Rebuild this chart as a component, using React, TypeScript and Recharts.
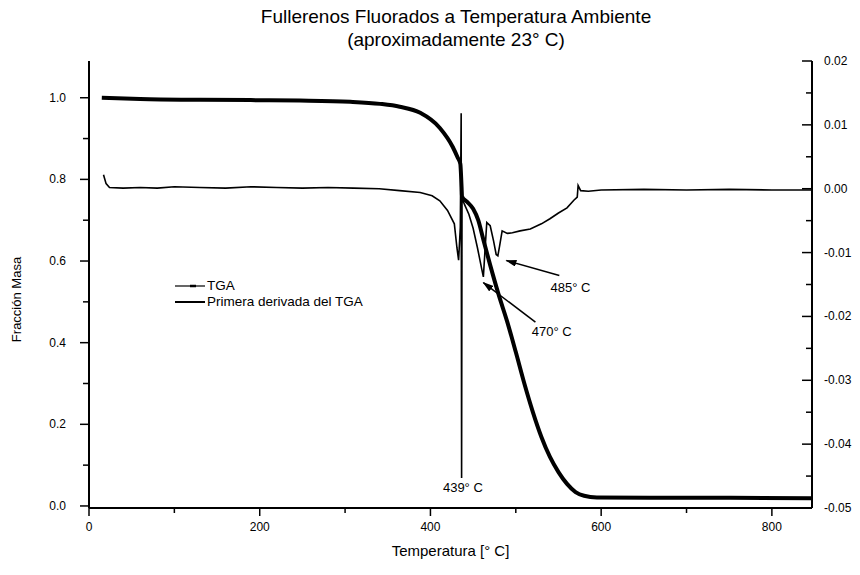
import { ComposedChart, Line, XAxis, YAxis, ReferenceLine, ReferenceDot, Label } from 'recharts';

// TGA (fracción de masa) — eje izquierdo
const tgaTemp = [15, 60, 130, 200, 247, 306, 341, 364, 388, 411, 426, 432, 435, 436.5, 437, 443, 450, 456, 462, 470, 480, 490, 500, 510, 520, 530, 540, 550, 560, 570, 580, 595, 657, 750, 848];
const tgaMass = [1.0, 0.997, 0.995, 0.994, 0.993, 0.99, 0.985, 0.978, 0.963, 0.926, 0.88, 0.853, 0.838, 0.78, 0.758, 0.745, 0.728, 0.7, 0.652, 0.59, 0.517, 0.451, 0.377, 0.3, 0.23, 0.169, 0.12, 0.083, 0.054, 0.034, 0.025, 0.021, 0.02, 0.02, 0.019];

// primera derivada — eje derecho
const dtgTemp = [17, 20, 24, 40, 60, 80, 100, 130, 160, 190, 220, 250, 280, 310, 340, 364, 388, 402, 411, 420, 428, 431, 433, 435, 436, 436.5, 437, 440, 445, 450, 455, 460, 462, 464, 466, 470, 474, 477, 479, 481, 484, 490, 496, 505, 517, 530, 540, 550, 560, 568, 572, 573, 576, 585, 600, 650, 700, 750, 800, 848];
const dtgValue = [0.0022, 0.0008, 0.0002, 0.0001, 0.0002, 0.0001, 0.0003, 0.0002, 0.0001, 0.0003, 0.0002, 0.0001, 0.0002, 0.0001, 0.0, -0.0003, -0.0006, -0.0011, -0.0019, -0.0034, -0.0055, -0.0092, -0.0112, -0.006, 0.0118, -0.0453, -0.0015, -0.0025, -0.004, -0.0062, -0.0092, -0.0125, -0.0138, -0.0095, -0.0053, -0.0058, -0.0082, -0.0103, -0.0105, -0.009, -0.0066, -0.007, -0.0069, -0.0066, -0.0063, -0.0055, -0.0047, -0.0038, -0.003, -0.0018, -0.0013, 0.0005, -0.0003, -0.0004, -0.0002, -0.0001, -0.0002, -0.0001, -0.0002, -0.0002];

const xTicks = [0, 100, 200, 300, 400, 500, 600, 700, 800];
const leftTicks = [0, 0.1, 0.2, 0.3, 0.4, 0.5, 0.6, 0.7, 0.8, 0.9, 1.0];
const rightTicks = [-0.05, -0.045, -0.04, -0.035, -0.03, -0.025, -0.02, -0.015, -0.01, -0.005, 0, 0.005, 0.01, 0.015, 0.02];

const tgaData = tgaTemp.map((t, i) => ({ t, tga: tgaMass[i] }));
const dtgData = dtgTemp.map((t, i) => ({ t, dtg: dtgValue[i] }));

const FONT = '"Liberation Sans", Arial, sans-serif';
const W = 860;
const H = 575;

function XTick({ x, y, payload }: any) {
  const major = payload.value % 200 === 0;
  return (
    <g>
      <line x1={x} x2={x} y1={y} y2={y + (major ? 8 : 5)} stroke="#000" strokeWidth={1.5} />
      {major && (
        <text x={x} y={y + 23} textAnchor="middle" fontSize={12} fontFamily={FONT} fill="#000">
          {payload.value}
        </text>
      )}
    </g>
  );
}

function LeftTick({ x, y, payload }: any) {
  const major = Math.round(payload.value * 10) % 2 === 0;
  return (
    <g>
      <line x1={x} x2={x - (major ? 9 : 6)} y1={y} y2={y} stroke="#000" strokeWidth={1.5} />
      {major && (
        <text x={x - 23} y={y + 4} textAnchor="end" fontSize={12} fontFamily={FONT} fill="#000">
          {payload.value.toFixed(1)}
        </text>
      )}
    </g>
  );
}

function RightTick({ x, y, payload }: any) {
  const major = Math.round(payload.value * 1000) % 10 === 0;
  return (
    <g>
      <line x1={x} x2={x - (major ? 10 : 6)} y1={y} y2={y} stroke="#000" strokeWidth={1.5} />
      {major && (
        <text x={x + 12} y={y + 4} textAnchor="start" fontSize={12} fontFamily={FONT} fill="#000">
          {payload.value.toFixed(2)}
        </text>
      )}
    </g>
  );
}

function Arrow(props: any) {
  const { x1, y1, x2, y2 } = props;
  const id = `arr-${Math.round(x2)}-${Math.round(y2)}`;
  return (
    <g>
      <defs>
        <marker id={id} markerUnits="userSpaceOnUse" markerWidth={11} markerHeight={7} refX={10} refY={3.5} orient="auto">
          <path d="M0,0 L11,3.5 L0,7 z" fill="#000" />
        </marker>
      </defs>
      <line x1={x1} y1={y1} x2={x2} y2={y2} stroke="#000" strokeWidth={1.5} markerEnd={`url(#${id})`} />
    </g>
  );
}

function LegendBox() {
  return (
    <div
      style={{
        position: 'absolute',
        left: 175,
        top: 278,
        fontFamily: FONT,
        fontSize: 13.5,
        color: '#000',
        lineHeight: '16px',
      }}
    >
      <div style={{ display: 'flex', alignItems: 'center' }}>
        <svg width={32} height={8}>
          <line x1={0} x2={30} y1={4} y2={4} stroke="#000" strokeWidth={1.2} />
          <line x1={15} x2={21} y1={4} y2={4} stroke="#000" strokeWidth={2.5} />
        </svg>
        <span>TGA</span>
      </div>
      <div style={{ display: 'flex', alignItems: 'center' }}>
        <svg width={32} height={8}>
          <line x1={0} x2={30} y1={4} y2={4} stroke="#000" strokeWidth={2} />
        </svg>
        <span>Primera derivada del TGA</span>
      </div>
    </div>
  );
}

const annot = (value: string) => ({
  value,
  position: 'center' as const,
  fontSize: 13,
  fontFamily: FONT,
  fill: '#000',
});

export default function App() {
  return (
    <div style={{ position: 'absolute', left: 0, top: 0, width: W, height: H, background: '#fff' }}>
      <div
        style={{
          position: 'absolute',
          left: 0,
          top: 5,
          width: 912,
          textAlign: 'center',
          fontFamily: FONT,
          fontSize: 19,
          lineHeight: '23px',
          color: '#000',
        }}
      >
        Fullerenos Fluorados a Temperatura Ambiente
        <br />
        (aproximadamente 23° C)
      </div>
      <ComposedChart width={W} height={H} margin={{ top: 61, right: 0, bottom: 37, left: 0 }}>
        <XAxis
          xAxisId="b"
          dataKey="t"
          type="number"
          domain={[0, 847]}
          ticks={xTicks}
          allowDataOverflow
          height={30}
          axisLine={{ stroke: '#000', strokeWidth: 2 }}
          tickLine={false}
          tickSize={0}
          tickMargin={0}
          tick={<XTick />}
          interval={0}
        >
          <Label
            content={({ viewBox }: any) => (
              <text x={viewBox.x + viewBox.width / 2} y={viewBox.y + 48} textAnchor="middle" fontSize={15} fontFamily={FONT} fill="#000">
                Temperatura [° C]
              </text>
            )}
          />
        </XAxis>
        <XAxis xAxisId="top" dataKey="t" type="number" domain={[0, 847]} orientation="top" height={0} tick={false} tickLine={false} axisLine={{ stroke: '#000', strokeWidth: 2 }} />
        <YAxis
          yAxisId="left"
          type="number"
          domain={[-0.005, 1.09]}
          ticks={leftTicks}
          allowDataOverflow
          width={89}
          axisLine={{ stroke: '#000', strokeWidth: 2 }}
          tickLine={false}
          tickSize={0}
          tickMargin={0}
          tick={<LeftTick />}
          interval={0}
        >
          <Label
            content={({ viewBox }: any) => {
              const cx = 18;
              const cy = viewBox.y + viewBox.height / 2 + 15;
              return (
                <text x={cx} y={cy} transform={`rotate(-90 ${cx} ${cy})`} textAnchor="middle" dominantBaseline="middle" fontSize={13} fontFamily={FONT} fill="#000">
                  Fracción Masa
                </text>
              );
            }}
          />
        </YAxis>
        <YAxis
          yAxisId="right"
          orientation="right"
          type="number"
          domain={[-0.05, 0.02]}
          ticks={rightTicks}
          allowDataOverflow
          width={48}
          axisLine={{ stroke: '#000', strokeWidth: 2 }}
          tickLine={false}
          tickSize={0}
          tickMargin={0}
          tick={<RightTick />}
          interval={0}
        />
        <Line
          xAxisId="b"
          yAxisId="right"
          data={dtgData}
          dataKey="dtg"
          type="linear"
          stroke="#000"
          strokeWidth={1.6}
          dot={false}
          isAnimationActive={false}
        />
        <Line
          xAxisId="b"
          yAxisId="left"
          data={tgaData}
          dataKey="tga"
          type="monotone"
          stroke="#000"
          strokeWidth={4}
          dot={false}
          isAnimationActive={false}
        />
        <ReferenceLine xAxisId="b" yAxisId="right" segment={[{ x: 551, y: -0.0136 }, { x: 489, y: -0.01125 }]} shape={<Arrow />} />
        <ReferenceLine xAxisId="b" yAxisId="right" segment={[{ x: 523, y: -0.0209 }, { x: 462, y: -0.0147 }]} shape={<Arrow />} />
        <ReferenceDot xAxisId="b" yAxisId="right" x={438} y={-0.0467} r={0} fill="none" stroke="none" label={annot('439° C')} />
        <ReferenceDot xAxisId="b" yAxisId="right" x={564} y={-0.0155} r={0} fill="none" stroke="none" label={annot('485° C')} />
        <ReferenceDot xAxisId="b" yAxisId="right" x={542} y={-0.0223} r={0} fill="none" stroke="none" label={annot('470° C')} />
      </ComposedChart>
      <LegendBox />
    </div>
  );
}
